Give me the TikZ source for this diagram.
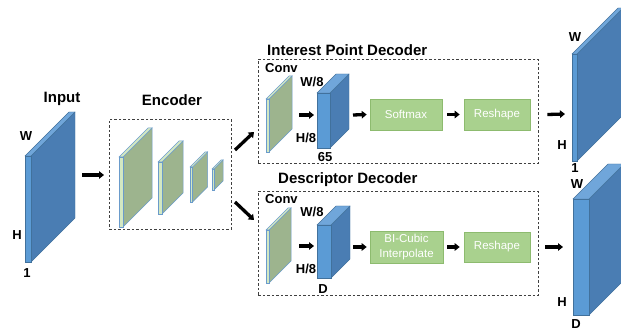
\documentclass[tikz,border=0pt]{standalone}
\usepackage{fontspec}
\setmainfont{Liberation Sans}
\usetikzlibrary{arrows.meta}

\definecolor{bluefr}{HTML}{5B9BD5}
\definecolor{bluesd}{HTML}{4A7DB3}
\definecolor{bluetp}{HTML}{70A6DA}
\definecolor{blueln}{HTML}{41719C}
\definecolor{greenfr}{HTML}{D3E8C2}
\definecolor{greensd}{HTML}{9DB48E}
\definecolor{greenln}{HTML}{6A9BCB}
\definecolor{boxfill}{HTML}{A9D18E}
\definecolor{boxline}{HTML}{8DBB6F}

% x y w h depth colour-set
\newcommand{\drawslab}[6]{%
  \filldraw[#6side] (#1+#3,#2) -- ++(#5,-#5) -- ++(0,#4) -- ++(-#5,#5) -- cycle;
  \filldraw[#6top] (#1,#2) -- ++(#5,-#5) -- ++(#3,0) -- ++(-#5,#5) -- cycle;
  \filldraw[#6front] (#1,#2) rectangle ++(#3,#4);
}

\begin{document}
\begin{tikzpicture}[x=1pt,y=-1pt,
  bluefront/.style={fill=bluefr,draw=blueln,line width=0.4pt},
  blueside/.style={fill=bluesd,draw=blueln,line width=0.4pt},
  bluetop/.style={fill=bluetp,draw=blueln,line width=0.4pt},
  greenfront/.style={fill=greenfr,draw=greenln,line width=0.5pt},
  greenside/.style={fill=greensd,draw=greenln,line width=0.5pt},
  greentop/.style={fill=greenfr,draw=greenln,line width=0.5pt},
  dashbox/.style={draw=black!75,dash pattern=on 2.5pt off 2pt,line width=0.6pt,anchor=north west,inner sep=0pt},
  gbox/.style={draw=boxline,fill=boxfill,text=white,line width=0.6pt,align=center,
    font=\fontsize{11.5}{15}\selectfont},
  title/.style={font=\fontsize{15}{17}\selectfont\bfseries},
  dim/.style={font=\fontsize{13}{15}\selectfont\bfseries,inner sep=0pt},
  fat/.style={line width=3.3pt,-{Triangle[length=5pt,width=7.5pt]}}]
\clip (0,0) rectangle (621,331);

\drawslab{25}{156}{6}{106}{44}{blue}
\node[title] (tin) at (62,99) {Input};
\node[dim] (inw) at (26,136) {W};
\node[dim] (inh) at (17,235) {H};
\node[dim] (inc) at (27,273) {1};

\node[dashbox,minimum width=122,minimum height=110] (enc) at (109,119) {};
\node[title] (tenc) at (172,100) {Encoder};
\drawslab{119}{157}{4}{70}{29}{green}
\drawslab{158}{162}{4}{52}{21}{green}
\drawslab{190}{167}{2.5}{35}{15}{green}
\drawslab{212}{169}{2}{21}{9}{green}

\node[dashbox,minimum width=280,minimum height=104] (ipd) at (258,59) {};
\node[title,anchor=west,inner sep=0pt] (tipd) at (267,50) {Interest Point Decoder};
\node[dim,anchor=west] (conva) at (265,68) {Conv};
\drawslab{266}{99}{3}{53}{23}{green}
\drawslab{317}{93}{13}{55}{19}{blue}
\node[dim] (ipw) at (312,82) {W/8};
\node[dim] (iph) at (306,138) {H/8};
\node[dim] (ipc) at (325,157) {65};
\node[gbox,minimum width=72,minimum height=31] (sm) at (406,114.5) {Softmax};
\node[gbox,minimum width=66,minimum height=31] (rsa) at (497,114.5) {Reshape};

\node[dashbox,minimum width=280,minimum height=104] (dd) at (258,191) {};
\node[title,anchor=west,inner sep=0pt] (tdd) at (278,180) {Descriptor Decoder};
\node[dim,anchor=west] (convb) at (265,199) {Conv};
\drawslab{266}{230}{3}{53}{22}{green}
\drawslab{317}{225}{14}{53}{19}{blue}
\node[dim] (ddw) at (312,212) {W/8};
\node[dim] (ddh) at (306,269) {H/8};
\node[dim] (ddc) at (323,289) {D};
\node[gbox,minimum width=73,minimum height=30] (bic) at (406.5,247) {BI-Cubic\\Interpolate};
\node[gbox,minimum width=66,minimum height=30] (rsb) at (497,247) {Reshape};

\drawslab{572}{54}{5}{107}{46}{blue}
\node[dim] (oaw) at (575,37) {W};
\node[dim] (oah) at (562,145) {H};
\node[dim] (oac) at (575,168) {1};
\drawslab{573}{199}{16}{116}{35}{blue}
\node[dim] (obw) at (577,184) {W};
\node[dim] (obh) at (562,302) {H};
\node[dim] (obc) at (576,324) {D};

\coordinate (ina) at (82,175);
\coordinate (inb) at (104,175);
\coordinate (upa) at (235,150);
\coordinate (upb) at (254,132);
\coordinate (loa) at (235,202);
\coordinate (lob) at (254,220);
\coordinate (cva) at (299,115);
\coordinate (cvb) at (314,115);
\coordinate (bka) at (353,115);
\coordinate (cwa) at (299,246);
\coordinate (cwb) at (314,246);
\coordinate (bla) at (353,247);
\coordinate (oua) at (565,114);
\coordinate (oub) at (563,247);

\draw[fat] (ina) -- (inb);
\draw[fat] (upa) -- (upb);
\draw[fat] (loa) -- (lob);
\draw[fat] (cva) -- (cvb);
\draw[fat] (bka) -- ([xshift=-3pt]sm.west);
\draw[fat] ([xshift=5pt]sm.east) -- ([xshift=-4pt]rsa.west);
\draw[fat] ([xshift=17pt]rsa.east) -- (oua);
\draw[fat] (cwa) -- (cwb);
\draw[fat] (bla) -- ([xshift=-3pt]bic.west);
\draw[fat] ([xshift=4pt]bic.east) -- ([xshift=-4pt]rsb.west);
\draw[fat] ([xshift=15pt]rsb.east) -- (oub);
\end{tikzpicture}
\end{document}
